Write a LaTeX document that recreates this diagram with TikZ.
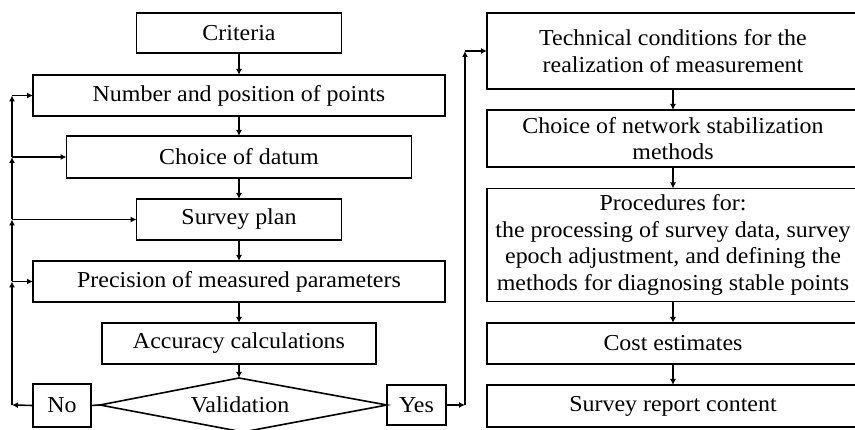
\documentclass[tikz,border=0pt]{standalone}
\usepackage{fontspec}
\setmainfont{Liberation Serif}[FakeStretch=1.05]
\usetikzlibrary{arrows.meta}
\begin{document}
\begin{tikzpicture}[x=1pt,y=-1pt,
  box/.style={draw,line width=1.6pt,inner sep=0pt,outer sep=0pt,align=center,
    font=\fontsize{22.8}{26.7}\selectfont},
  arr/.style={line width=1.6pt,-{Latex[length=6pt,width=6pt]}},
  ln/.style={line width=1.6pt}]
\useasboundingbox (0,0) rectangle (855,430);
\clip (0,0) rectangle (855,430);
% left column
\node[box,minimum width=205pt,minimum height=40pt] (crit) at (239,33) {Criteria};
\node[box,minimum width=412pt,minimum height=41pt] (num) at (239,95.5) {Number and position of points};
\node[box,minimum width=345pt,minimum height=42pt] (datum) at (239,157) {Choice of datum};
\node[box,minimum width=205pt,minimum height=41pt] (plan) at (239,219.5) {Survey plan};
\node[box,minimum width=412pt,minimum height=41pt] (prec) at (239,281.5) {Precision of measured parameters};
\node[box,minimum width=274pt,minimum height=41pt] (acc) at (239,343.5) {Accuracy calculations};
% decision
\coordinate (valT) at (239,378);
\coordinate (valL) at (100,405);
\coordinate (valR) at (387,405);
\coordinate (valB) at (243,432);
\draw[ln] (valL) -- (valT) -- (valR) -- (valB) -- cycle;
\node[font=\fontsize{22.8}{26.7}\selectfont] (val) at (240,405) {Validation};
\node[box,minimum width=58pt,minimum height=43pt] (no) at (62,405.5) {No};
\node[box,minimum width=59pt,minimum height=40pt] (yes) at (416.5,405) {Yes};
% right column
\node[box,minimum width=372pt,minimum height=76pt] (tech) at (673,51) {Technical conditions for the\\realization of measurement};
\node[box,minimum width=372pt,minimum height=57pt] (net) at (673,138.5) {Choice of network stabilization\\methods};
\node[box,minimum width=372pt,minimum height=113pt] (proc) at (673,245) {Procedures for:\\the processing of survey data, survey\\epoch adjustment, and defining the\\methods for diagnosing stable points};
\node[box,minimum width=372pt,minimum height=41pt] (cost) at (673,343.5) {Cost estimates};
\node[box,minimum width=372pt,minimum height=42pt] (rep) at (673,406) {Survey report content};
% vertical flow
\draw[arr] (crit) -- (num);
\draw[arr] (num) -- (datum);
\draw[arr] (datum) -- (plan);
\draw[arr] (plan) -- (prec);
\draw[arr] (prec) -- (acc);
\draw[arr] (acc.south) -- (valT);
\draw[ln] (no.east) -- (valL);
\draw[ln] (valR) -- (yes.west);
\draw[arr] (tech) -- (net);
\draw[arr] (net) -- (proc);
\draw[arr] (proc) -- (cost);
\draw[arr] (cost) -- (rep);
% feedback loop (No)
\coordinate (fb0) at (12,405);
\coordinate (fb1) at (12,281.5);
\coordinate (fb2) at (12,219.5);
\coordinate (fb3) at (12,157);
\coordinate (fb4) at (12,95.5);
\draw[arr] (no.west) -- (fb0);
\draw[arr] (fb0) -- (fb1);
\draw[arr] (fb1) -- (fb2);
\draw[arr] (fb2) -- (fb3);
\draw[arr] (fb3) -- (fb4);
\draw[arr] (fb1) -- (prec.west);
\draw[arr] (fb2) -- (plan.west);
\draw[arr] (fb3) -- (datum.west);
\draw[arr] (fb4) -- (num.west);
% Yes path
\coordinate (yr0) at (465,405);
\coordinate (yr1) at (465,51);
\draw[arr] (yes.east) -- (yr0);
\draw[arr] (yr0) -- (yr1);
\draw[arr] (yr1) -- (tech.west);
\end{tikzpicture}
\end{document}
